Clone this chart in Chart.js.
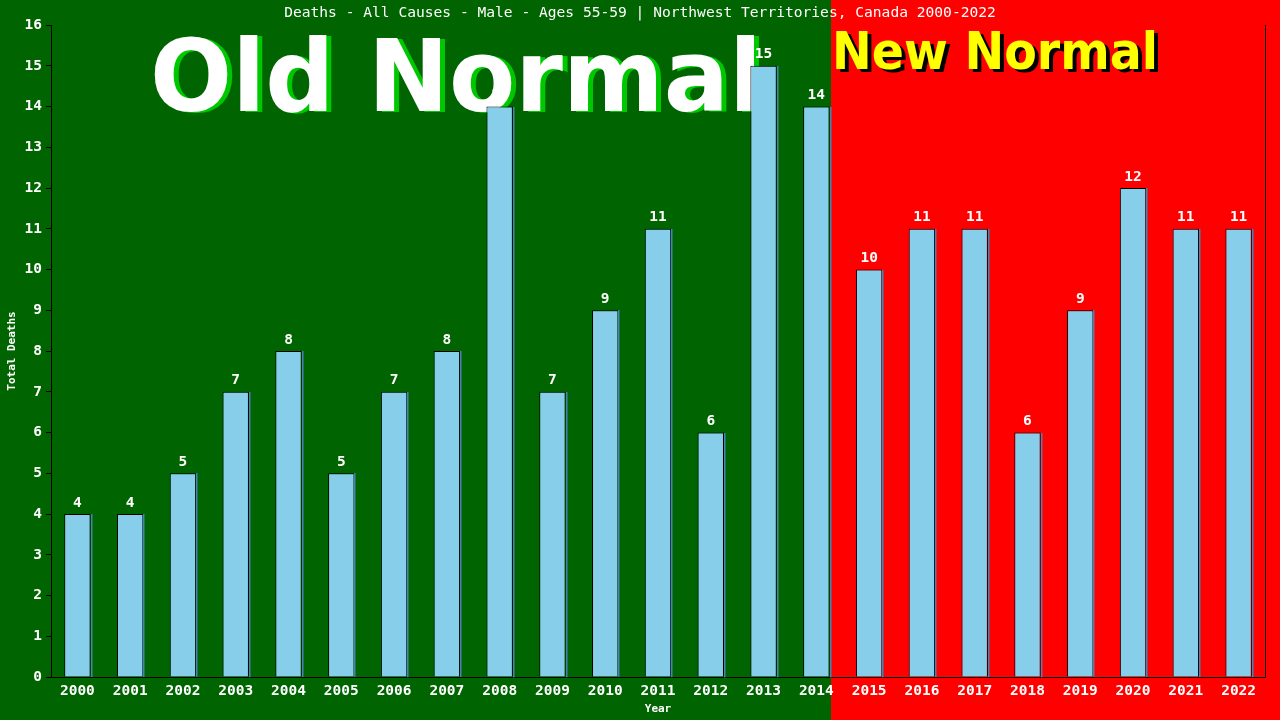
<!DOCTYPE html>
<html><head><meta charset="utf-8">
<script src="https://cdn.jsdelivr.net/npm/chart.js@4.4.0/dist/chart.umd.min.js"></script>
<style>html,body{margin:0;padding:0;background:#006400;}#wrap{width:1280px;height:720px;}</style>
</head><body><div id="wrap"><canvas id="c" width="1280" height="720"></canvas></div>
<script>
const years = ["2000","2001","2002","2003","2004","2005","2006","2007","2008","2009","2010","2011","2012","2013","2014","2015","2016","2017","2018","2019","2020","2021","2022"];
const deaths = [4,4,5,7,8,5,7,8,14,7,9,11,6,15,14,10,11,11,6,9,12,11,11];
const yTicks = [0,1,2,3,4,5,6,7,8,9,10,11,12,13,14,15,16];
const titleText = "Deaths - All Causes - Male - Ages 55-59 | Northwest Territories, Canada 2000-2022";
const lastOldIndex = 14;
const MONO = "'DejaVu Sans Mono', 'Liberation Mono', monospace";

const bgPlugin = {
  id: 'bg',
  beforeDraw(chart) {
    const ctx = chart.ctx, W = chart.width, H = chart.height;
    const meta = chart.getDatasetMeta(0);
    const el = meta.data[lastOldIndex];
    const split = Math.round(el.x + el.width / 2) + 1;
    ctx.save();
    ctx.fillStyle = '#006400'; ctx.fillRect(0, 0, split, H);
    ctx.fillStyle = '#ff0000'; ctx.fillRect(split, 0, W - split, H);
    ctx.restore();
  },
  beforeDatasetsDraw(chart) {
    const ctx = chart.ctx;
    const meta = chart.getDatasetMeta(0);
    const el = meta.data[lastOldIndex];
    const split = Math.round(el.x + el.width / 2) + 1;
    ctx.save();
    ctx.font = "bold 100px 'DejaVu Sans', Verdana, sans-serif";
    ctx.textBaseline = 'alphabetic';
    const txt = "Old Normal";
    const w = ctx.measureText(txt).width;
    const sx = 612 / w;
    ctx.translate(150, 111);
    ctx.scale(sx, 1);
    ctx.fillStyle = '#00c800';
    ctx.fillText(txt, 5 / sx, 1);
    ctx.fillStyle = '#ffffff';
    ctx.fillText(txt, 0, 0);
    ctx.restore();
    ctx.save();
    ctx.font = "bold 52px 'DejaVu Sans', Verdana, sans-serif";
    const t2 = "New Normal";
    const w2 = ctx.measureText(t2).width;
    const sx2 = 326 / w2;
    ctx.translate(split + 1, 69);
    ctx.scale(sx2, 1);
    ctx.fillStyle = '#000000';
    ctx.fillText(t2, 4 / sx2, 3);
    ctx.fillStyle = '#ffff00';
    ctx.fillText(t2, 0, 0);
    ctx.restore();
  },
  afterDatasetsDraw(chart) {
    const ctx = chart.ctx;
    const meta = chart.getDatasetMeta(0);
    const ca = chart.chartArea;
    ctx.save();
    meta.data.forEach((el) => {
      ctx.fillStyle = '#4682b4';
      ctx.fillRect(Math.round(el.x + el.width / 2), Math.round(el.y), 1.5, ca.bottom - el.y);
    });
    ctx.fillStyle = '#ffffff';
    ctx.font = "bold 14.5px " + MONO;
    ctx.textAlign = 'center';
    ctx.textBaseline = 'bottom';
    meta.data.forEach((el, i) => {
      ctx.fillText(String(deaths[i]), el.x, el.y - 4);
    });
    ctx.strokeStyle = '#000'; ctx.lineWidth = 1;
    ctx.beginPath(); ctx.moveTo(ca.right + 0.5, ca.top); ctx.lineTo(ca.right + 0.5, ca.bottom); ctx.stroke();
    ctx.font = "14.6px " + MONO;
    ctx.textBaseline = 'middle';
    ctx.fillText(titleText, 640, 13);
    ctx.restore();
  }
};

new Chart(document.getElementById('c'), {
  type: 'bar',
  data: {
    labels: years,
    datasets: [{
      data: deaths,
      backgroundColor: '#87ceeb',
      borderColor: '#000000',
      borderWidth: 1,
      borderSkipped: 'bottom',
      barPercentage: 0.5,
      categoryPercentage: 1.0
    }]
  },
  options: {
    responsive: false,
    animation: false,
    devicePixelRatio: 1,
    layout: { padding: { top: 25, right: 15, left: 0, bottom: 0 } },
    plugins: { legend: { display: false }, tooltip: { enabled: false } },
    scales: {
      x: {
        grid: { display: false, drawTicks: false },
        border: { color: '#000', width: 1 },
        ticks: { color: '#fff', font: { family: MONO, size: 14.5, weight: 'bold' }, padding: 6, maxRotation: 0, autoSkip: false },
        title: { display: true, text: 'Year', color: '#fff', font: { family: MONO, size: 11, weight: 'bold' }, padding: { top: 2, bottom: 4 } },
        afterFit(s) { s.height = 43; }
      },
      y: {
        min: 0, max: 16,
        afterBuildTicks(s) { s.ticks = yTicks.map(v => ({ value: v })); },
        grid: { display: true, drawOnChartArea: false, drawTicks: true, tickLength: 5, color: '#000', tickColor: '#000' },
        border: { color: '#000', width: 1 },
        ticks: { color: '#fff', font: { family: MONO, size: 14.5, weight: 'bold' }, padding: 4 },
        title: { display: true, text: 'Total Deaths', color: '#fff', font: { family: MONO, size: 11, weight: 'bold' }, padding: { top: 6, bottom: 4 } },
        afterFit(s) { s.width = 51; }
      }
    }
  },
  plugins: [bgPlugin]
});
</script>
</body></html>
